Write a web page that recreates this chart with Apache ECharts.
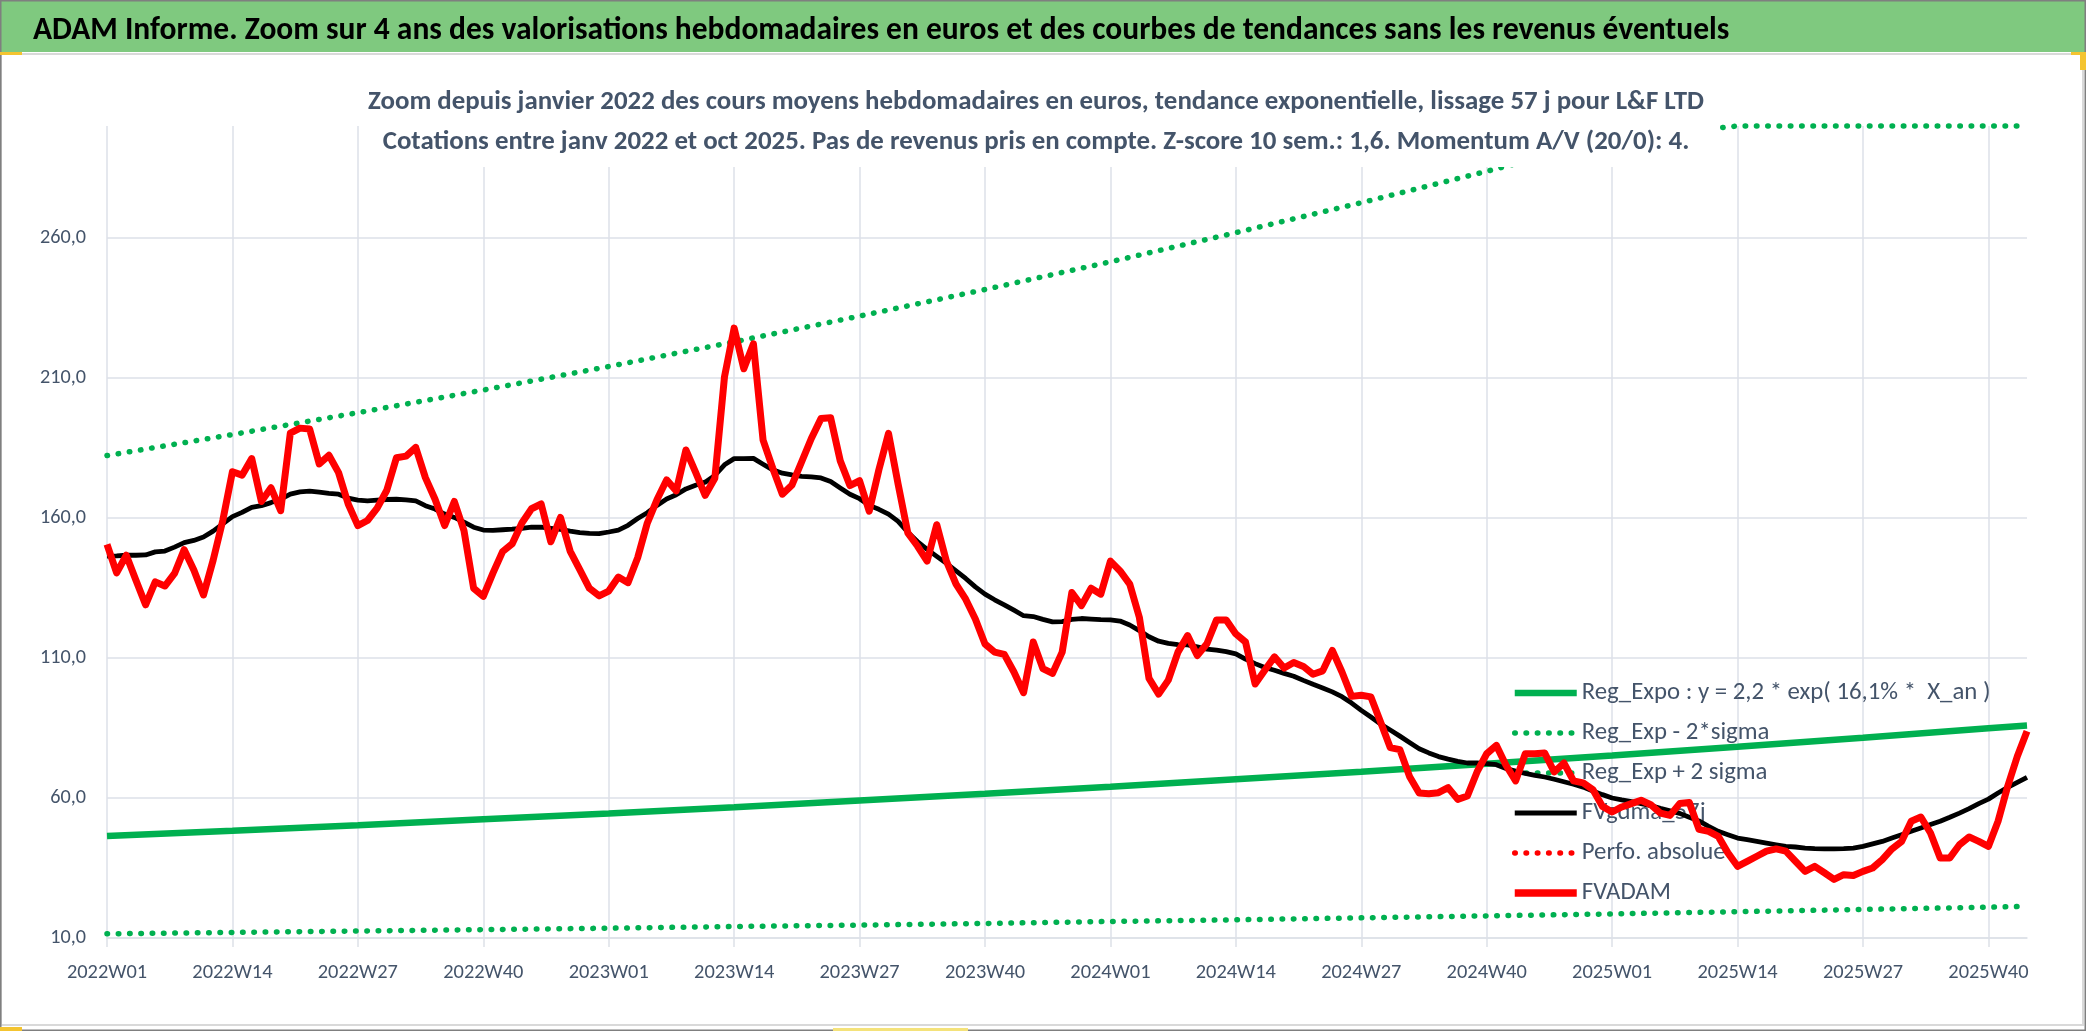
<!DOCTYPE html>
<html>
<head>
<meta charset="utf-8">
<title>ADAM Informe</title>
<script src="https://cdn.jsdelivr.net/npm/echarts@6/dist/echarts.min.js"></script>
<style>
	html, body { margin: 0; padding: 0; background: #fff; }
	#chart { width: 2086px; height: 1031px; }
</style>
</head>
<body>
<div id="chart"></div>
<script>
// semaines 2022W01 .. 2025W44
const weeks = []
for (const [year, last] of [[2022, 52], [2023, 52], [2024, 52], [2025, 44]]) {
	for (let w = 1; w <= last; w++) weeks.push(`${year}W${String(w).padStart(2, '0')}`)
}

// cours moyens hebdomadaires (FVADAM)
const fvadam = [
	150.6, 140.4, 146.7, 137.8, 129.0, 137.2, 135.7, 140.2, 148.7, 141.4,
	132.5, 144.9, 159.1, 176.5, 175.3, 181.2, 165.9, 170.8, 162.6, 190.3,
	192.1, 191.8, 179.3, 182.4, 176.2, 165.0, 157.3, 159.1, 163.5, 169.9,
	181.5, 182.1, 185.2, 174.4, 166.7, 157.3, 165.9, 155.5, 134.9, 132.0,
	140.3, 148.0, 150.8, 158.2, 163.3, 165.0, 151.5, 160.2, 148.2, 141.6,
	134.9, 132.2, 133.9, 138.9, 136.9, 145.8, 158.2, 166.5, 173.6, 169.7,
	184.3, 176.4, 168.1, 174.2, 210.4, 227.8, 213.3, 222.2, 187.8, 177.8,
	168.5, 171.8, 180.1, 188.4, 195.5, 195.8, 180.4, 171.6, 173.3, 162.4,
	177.2, 190.2, 172.0, 154.7, 150.0, 144.6, 157.6, 144.6, 136.4, 131.0,
	123.9, 115.0, 112.1, 111.3, 105.0, 97.6, 115.7, 106.2, 104.5, 112.1,
	133.4, 128.7, 134.9, 132.8, 144.6, 141.1, 136.4, 124.5, 102.7, 97.1,
	102.1, 112.1, 118.0, 110.9, 115.1, 123.6, 123.6, 118.6, 115.7, 100.7,
	105.6, 110.4, 106.4, 108.4, 107.0, 104.2, 105.4, 112.7, 105.0, 96.3,
	96.7, 96.1, 87.1, 78.0, 77.3, 67.7, 61.8, 61.5, 61.9, 63.7,
	59.5, 60.7, 69.3, 75.8, 78.8, 71.7, 66.1, 75.8, 75.8, 76.1,
	69.3, 72.5, 66.1, 65.4, 63.0, 57.0, 55.0, 56.8, 58.0, 59.2,
	57.6, 54.6, 53.8, 58.0, 58.4, 48.8, 48.1, 46.3, 40.4, 35.6,
	37.4, 39.2, 41.0, 41.8, 41.0, 37.4, 33.8, 35.6, 33.3, 30.9,
	32.6, 32.3, 33.8, 35.0, 38.0, 41.8, 44.5, 51.7, 53.2, 47.5,
	38.6, 38.6, 43.3, 46.1, 44.5, 42.7, 51.7, 64.2, 74.9, 83.8,
]

// moyenne mobile 57 j (FVgdma_57j)
const fvgdma = [
	146.4, 146.5, 146.7, 146.7, 146.8, 147.9, 148.2, 149.6, 151.2, 152.0,
	153.2, 155.3, 157.9, 160.5, 162.0, 163.8, 164.4, 165.5, 166.7, 168.5,
	169.3, 169.6, 169.2, 168.8, 168.5, 167.1, 166.4, 166.1, 166.4, 166.6,
	166.7, 166.5, 166.1, 164.4, 163.2, 161.4, 160.2, 158.5, 156.7, 155.7,
	155.6, 155.8, 156.0, 156.3, 156.7, 156.7, 156.3, 155.9, 155.3, 154.8,
	154.5, 154.4, 155.0, 155.7, 157.4, 159.8, 161.9, 164.5, 166.8, 168.3,
	170.4, 171.7, 172.8, 175.2, 179.0, 181.2, 181.2, 181.3, 179.2, 177.2,
	176.0, 175.4, 174.9, 174.7, 174.3, 173.0, 170.7, 168.5, 166.9, 164.5,
	163.1, 161.4, 158.8, 154.9, 151.6, 148.8, 146.3, 143.8, 141.1, 138.4,
	135.4, 132.8, 130.8, 129.0, 127.1, 125.1, 124.8, 123.8, 122.9, 123.0,
	123.8, 124.1, 123.9, 123.7, 123.6, 123.2, 121.8, 119.8, 117.6, 116.0,
	115.2, 114.8, 114.7, 114.0, 113.2, 112.8, 112.3, 111.5, 109.6, 108.0,
	106.6, 105.6, 104.5, 103.5, 102.0, 100.6, 99.3, 97.9, 96.2, 93.9,
	91.3, 88.9, 86.4, 84.3, 82.1, 79.8, 77.6, 76.1, 74.8, 73.9,
	73.1, 72.5, 72.5, 72.3, 71.9, 70.5, 69.6, 68.8, 68.1, 67.5,
	66.7, 65.8, 64.9, 63.9, 62.5, 61.2, 60.0, 59.3, 58.7, 58.0,
	57.3, 56.3, 55.4, 54.5, 53.1, 51.8, 49.9, 48.1, 46.9, 45.7,
	45.1, 44.5, 43.9, 43.3, 42.7, 42.5, 42.1, 41.9, 41.8, 41.8,
	41.9, 42.1, 42.7, 43.6, 44.5, 45.7, 46.9, 48.1, 49.3, 50.5,
	51.7, 53.1, 54.6, 56.2, 58.0, 59.6, 61.8, 63.8, 65.6, 67.4,
]

// tendance exponentielle, lue aux semaines des graduations
const trendWeeks = ['2022W01', '2022W14', '2022W27', '2022W40', '2023W01', '2023W14', '2023W27', '2023W40',
	'2024W01', '2024W14', '2024W27', '2024W40', '2025W01', '2025W14', '2025W27', '2025W40', '2025W44']
const regExpo = [46.4, 48.3, 50.3, 52.4, 54.5, 56.7, 59.1, 61.5, 64.0, 66.7, 69.4, 72.2, 75.2, 78.3, 81.5, 84.9, 85.9]
const regMinus = [11.5, 12.0, 12.5, 13.0, 13.5, 14.1, 14.6, 15.2, 15.9, 16.5, 17.2, 17.9, 18.6, 19.4, 20.2, 21.0, 21.3]
const regPlus = [182.3, 189.8, 197.6, 205.7, 214.1, 222.9, 232.1, 241.6, 251.5, 261.9, 272.6, 283.8, 295.5, 307.6, 320.2, 333.4, 337.4]

const yTicks = [10, 60, 110, 160, 210, 260]
const Y_MIN = 10
const Y_MAX = 300

const mainTitle = 'ADAM Informe. Zoom sur 4 ans des valorisations hebdomadaires en euros et des courbes de tendances sans les revenus éventuels'
const subLines = [
	'Zoom depuis janvier 2022 des cours moyens hebdomadaires en euros, tendance exponentielle, lissage 57 j pour L&F LTD',
	'Cotations entre janv 2022 et oct 2025. Pas de revenus pris en compte. Z-score 10 sem.: 1,6. Momentum A/V (20/0): 4.',
]
const names = {
	reg: 'Reg_Expo : y = 2,2 * exp( 16,1% *  X_an )',
	minus: 'Reg_Exp - 2*sigma',
	plus: 'Reg_Exp + 2 sigma',
	gdma: 'FVgdma_57j',
	perfo: 'Perfo. absolue',
	adam: 'FVADAM',
}

const FONT = "Carlito, Lato, 'Noto Sans', sans-serif"
const GREEN = '#00b050'
const RED = '#ff0000'
const TXT = '#44546a'
const GRID = '#dde1e8'

// taille de police pour qu'un texte occupe la largeur voulue
const ctx = document.createElement('canvas').getContext('2d')
const fitFont = (text, weight, width) => {
	ctx.font = `${weight} 100px ${FONT}`
	return Math.round(1000 * width / ctx.measureText(text).width) / 10
}
const mainSize = fitFont(mainTitle, 'bold', 1695)
const subSize = fitFont(subLines[0], 'bold', 1336)
const legSize = fitFont(names.reg, 'normal', 409)
const xSize = fitFont('2022W01', 'normal', 80)
const ySize = fitFont('260,0', 'normal', 46)

const trend = (vals) => vals.map((v, i) => [trendWeeks[i], Math.min(v, Y_MAX)])
const dotted = (color) => ({ color, width: 5.5, type: [0.5, 10.8], cap: 'round' })

const myChart = echarts.init(document.getElementById('chart'))

let option = {
	animation: false,
	backgroundColor: '#fff',
	graphic: [
		{ type: 'rect', z: 0, shape: { x: 0, y: 0, width: 2086, height: 52 }, style: { fill: '#7fc97f' } },
		{ type: 'rect', z: 0, shape: { x: 1, y: 54, width: 2082, height: 971 }, style: { fill: 'none', stroke: '#d9d9d9', lineWidth: 2 } },
		{ type: 'rect', z: 0, shape: { x: 0.75, y: 0.75, width: 2084.5, height: 1029.5 }, style: { fill: 'none', stroke: '#7f7f7f', lineWidth: 1.5 } },
		{ type: 'rect', z: 1, shape: { x: 0, y: 52, width: 22, height: 3 }, style: { fill: '#f4c430' } },
		{ type: 'rect', z: 1, shape: { x: 2071, y: 52, width: 15, height: 3 }, style: { fill: '#f4c430' } },
		{ type: 'rect', z: 1, shape: { x: 2080, y: 52, width: 6, height: 18 }, style: { fill: '#f4c430' } },
		{ type: 'rect', z: 1, shape: { x: 0, y: 1027, width: 22, height: 4 }, style: { fill: '#f4c430' } },
		{ type: 'rect', z: 1, shape: { x: 833, y: 1028, width: 135, height: 3 }, style: { fill: '#f4e27a' } },
	],
	title: [
		{
			text: mainTitle,
			left: 33,
			top: 29.5 - 0.45 * mainSize,
			padding: 0,
			textStyle: { fontFamily: FONT, fontSize: mainSize, lineHeight: mainSize, fontWeight: 'bold', color: '#000' },
		},
		{
			text: subLines.join('\n'),
			left: 1032,
			top: 77,
			textAlign: 'center',
			padding: [5, 16, 5, 4],
			backgroundColor: '#fff',
			textStyle: { fontFamily: FONT, fontSize: subSize, lineHeight: 40, fontWeight: 'bold', color: TXT },
		},
	],
	legend: {
		orient: 'vertical',
		left: 1511,
		top: 679,
		z: 1,
		padding: 0,
		itemWidth: 62,
		itemHeight: 28,
		itemGap: 12,
		selectedMode: false,
		itemStyle: { opacity: 0 },
		textStyle: { fontFamily: FONT, fontSize: legSize, lineHeight: 28, color: TXT },
		data: [
			{ name: names.reg, lineStyle: { width: 6.5 } },
			{ name: names.minus, lineStyle: { width: 5.5 } },
			{ name: names.plus, lineStyle: { width: 5.5 } },
			{ name: names.gdma, lineStyle: { width: 5 } },
			{ name: names.perfo, lineStyle: { width: 5.5 } },
			{ name: names.adam, lineStyle: { width: 7.5 } },
		],
	},
	grid: {
		left: 107,
		right: 59,
		top: 126,
		bottom: 93,
		containLabel: false,
		outerBoundsMode: 'none',
	},
	xAxis: {
		type: 'category',
		boundaryGap: false,
		data: weeks,
		axisLine: { show: true, lineStyle: { color: GRID, width: 1.5 } },
		axisTick: { show: true, interval: 12, length: 9, lineStyle: { color: GRID, width: 1.5 } },
		axisLabel: { interval: 12, margin: 24, fontFamily: FONT, fontSize: xSize, lineHeight: 22, color: TXT },
		splitLine: { show: true, interval: 12, lineStyle: { color: GRID, width: 1.5 } },
	},
	yAxis: {
		type: 'value',
		min: Y_MIN,
		max: Y_MAX,
		interval: 50,
		axisLine: { show: false },
		axisTick: { show: false },
		axisLabel: {
			margin: 21,
			fontFamily: FONT,
			fontSize: ySize,
			color: TXT,
			formatter: (v) => (yTicks.includes(v) ? v.toFixed(1).replace('.', ',') : ''),
		},
		splitLine: { show: true, showMaxLine: false, lineStyle: { color: GRID, width: 1.5 } },
	},
	series: [
		{
			name: names.reg,
			type: 'line',
			symbol: 'none',
			clip: false,
			data: trend(regExpo),
			lineStyle: { color: GREEN, width: 6.5 },
			itemStyle: { color: GREEN },
		},
		{
			name: names.minus,
			type: 'line',
			symbol: 'none',
			clip: false,
			data: trend(regMinus),
			lineStyle: dotted(GREEN),
			itemStyle: { color: GREEN },
		},
		{
			name: names.plus,
			type: 'line',
			symbol: 'none',
			clip: false,
			data: trend(regPlus),
			lineStyle: dotted(GREEN),
			itemStyle: { color: GREEN },
		},
		{
			name: names.gdma,
			type: 'line',
			symbol: 'none',
			data: fvgdma,
			lineStyle: { color: '#000', width: 4.8, join: 'round' },
			itemStyle: { color: '#000' },
		},
		{
			name: names.perfo,
			type: 'line',
			symbol: 'none',
			data: [],
			lineStyle: dotted(RED),
			itemStyle: { color: RED },
		},
		{
			name: names.adam,
			type: 'line',
			symbol: 'none',
			data: fvadam,
			lineStyle: { color: RED, width: 7, join: 'round' },
			itemStyle: { color: RED },
		},
	],
}
myChart.setOption(option)

window.addEventListener('resize', () => {
	myChart.resize()
})
</script>
</body>
</html>
